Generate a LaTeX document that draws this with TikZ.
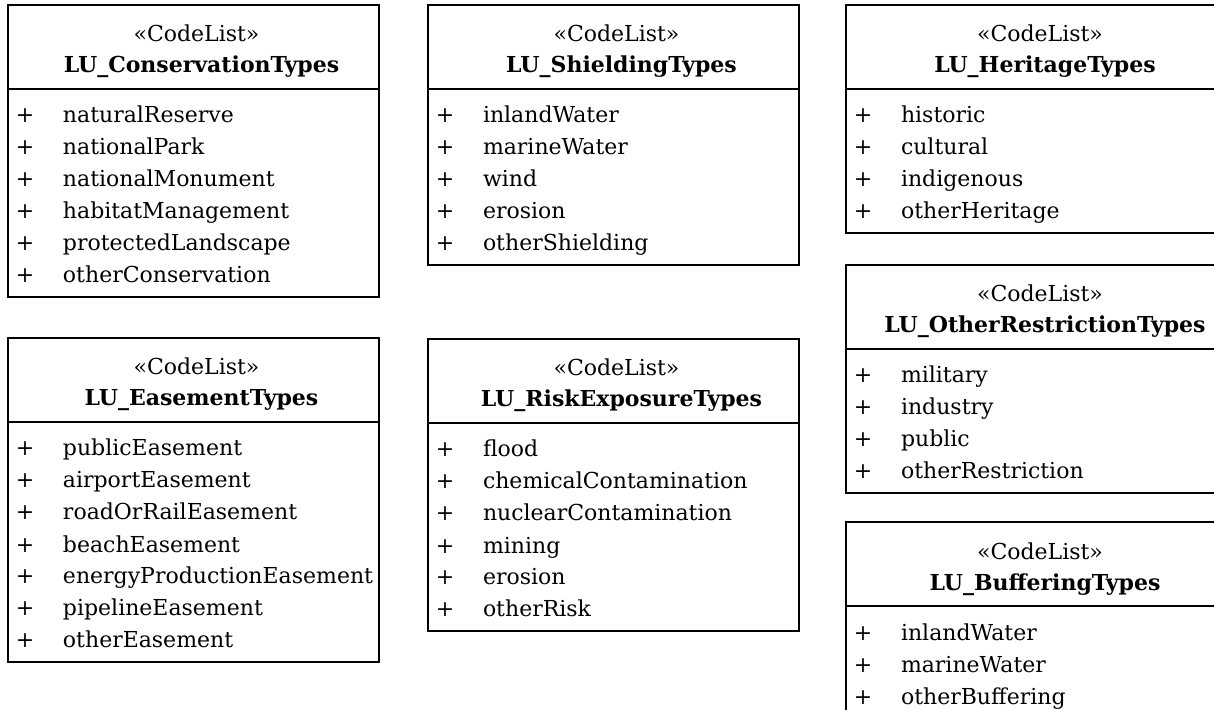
\documentclass[tikz,border=0pt]{standalone}
\usepackage{fontspec}
\setmainfont{DejaVu Serif}
\usetikzlibrary{positioning}

\newcommand\stereo[1]{\rule{0pt}{18.5pt}\hspace*{3pt}«CodeList»\\\hspace*{8pt}\textbf{#1}\rule[-8pt]{0pt}{8pt}}
\newcommand\lit[1]{\rule[-3pt]{0pt}{16pt}\makebox[17pt]{+}\hspace{10.5pt}#1}

\tikzset{
  codehead/.style={draw,line width=1pt,outer sep=0pt,inner sep=0pt,
    text width=#1,align=center,font=\fontsize{11}{15.5}\selectfont},
  codebody/.style={draw,line width=1pt,outer sep=0pt,inner xsep=0pt,inner ysep=4pt,
    text width=#1,align=left,font=\fontsize{11}{16}\selectfont},
}

\begin{document}
\begin{tikzpicture}[x=0.5pt,y=-0.5pt]
    \useasboundingbox (0,0) rectangle (1214,710);
    \clip (0,0) rectangle (1214,710);
    % left column
    \node[codehead=185.5pt,anchor=north west] (conserv) at (8,5) {\stereo{LU\_ConservationTypes}};
    \node[codebody=185.5pt,below=0pt of conserv] (conserv_list)
      {\lit{naturalReserve}\\\lit{nationalPark}\\\lit{nationalMonument}\\
       \lit{habitatManagement}\\\lit{protectedLandscape}\\\lit{otherConservation}};
    \node[codehead=185.5pt,anchor=north west] (ease) at (8,338) {\stereo{LU\_EasementTypes}};
    \node[codebody=185.5pt,below=0pt of ease] (ease_list)
      {\lit{publicEasement}\\\lit{airportEasement}\\\lit{roadOrRailEasement}\\
       \lit{beachEasement}\\\lit{energyProductionEasement}\\\lit{pipelineEasement}\\
       \lit{otherEasement}};
    % middle column
    \node[codehead=185.5pt,anchor=north west] (shield) at (428,5) {\stereo{LU\_ShieldingTypes}};
    \node[codebody=185.5pt,below=0pt of shield] (shield_list)
      {\lit{inlandWater}\\\lit{marineWater}\\\lit{wind}\\\lit{erosion}\\\lit{otherShielding}};
    \node[codehead=185.5pt,anchor=north west] (risk) at (428,339) {\stereo{LU\_RiskExposureTypes}};
    \node[codebody=185.5pt,below=0pt of risk] (risk_list)
      {\lit{flood}\\\lit{chemicalContamination}\\\lit{nuclearContamination}\\
       \lit{mining}\\\lit{erosion}\\\lit{otherRisk}};
    % right column
    \node[codehead=191pt,anchor=north west] (herit) at (846,5) {\stereo{LU\_HeritageTypes}};
    \node[codebody=191pt,below=0pt of herit] (herit_list)
      {\lit{historic}\\\lit{cultural}\\\lit{indigenous}\\\lit{otherHeritage}};
    \node[codehead=191pt,anchor=north west] (restr) at (846,265) {\stereo{LU\_OtherRestrictionTypes}};
    \node[codebody=191pt,below=0pt of restr] (restr_list)
      {\lit{military}\\\lit{industry}\\\lit{public}\\\lit{otherRestriction}};
    \node[codehead=191pt,anchor=north west] (buffer) at (846,522) {\stereo{LU\_BufferingTypes}};
    \node[codebody=191pt,below=0pt of buffer] (buffer_list)
      {\lit{inlandWater}\\\lit{marineWater}\\\lit{otherBuffering}};
\end{tikzpicture}
\end{document}
